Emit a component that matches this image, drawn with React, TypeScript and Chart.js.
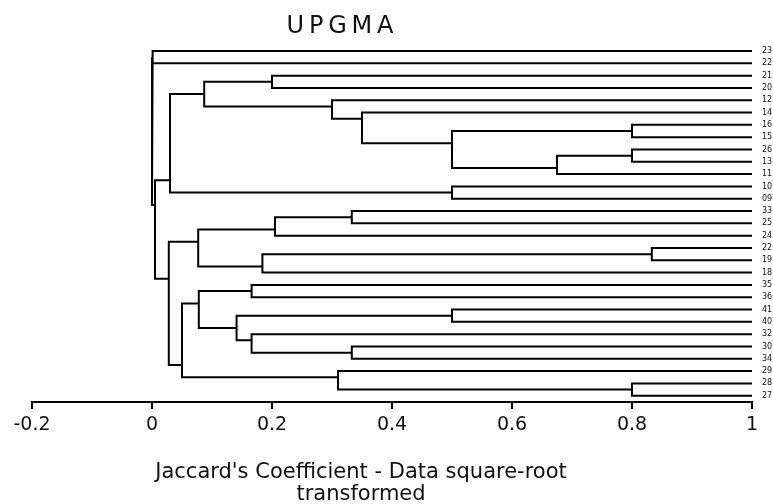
import React, { useEffect, useRef } from 'react';
import { Chart, registerables } from 'chart.js';

Chart.register(...registerables);

const TITLE = 'UPGMA';
const X_AXIS_TITLE = ["Jaccard's Coefficient - Data square-root", 'transformed'];

// Leaves, top to bottom
const LEAF_LABELS = ['23', '22', '21', '20', '12', '14', '16', '15', '26', '13', '11', '10', '09', '33', '25', '24', '22', '19', '18', '35', '36', '41', '40', '32', '30', '34', '29', '28', '27'];

// Merges (hclust style): negative = leaf (-1 is first leaf), positive = earlier merge (1-based)
const MERGE_LEFT = [-1, -3, -7, -9, 4, 3, -6, -5, 2, -12, 9, -14, 12, -17, 14, 13, -20, -22, -25, -24, 18, 17, -28, -27, 22, 16, 11, 1];
const MERGE_RIGHT = [-2, -4, -8, -10, -11, 5, 6, 7, 8, -13, 10, -15, -16, -18, -19, 15, -21, -23, -26, 19, 20, 21, -29, 23, 24, 25, 26, 27];
const MERGE_HEIGHT = [0.001, 0.2, 0.8, 0.8, 0.675, 0.5, 0.35, 0.3, 0.087, 0.5, 0.03, 0.333, 0.205, 0.833, 0.184, 0.077, 0.166, 0.5, 0.333, 0.166, 0.141, 0.078, 0.8, 0.31, 0.05, 0.028, 0.005, 0];

const X_TICKS = [-0.2, 0, 0.2, 0.4, 0.6, 0.8, 1];
const X_TICK_LABELS = ['-0.2', '0', '0.2', '0.4', '0.6', '0.8', '1'];
const X_MIN = -0.2;
const X_MAX = 1;

function buildSegments() {
  const first: number[] = [];
  const last: number[] = [];
  const attach: number[] = [];
  const info = (ref: number) =>
    ref < 0
      ? { first: -ref - 1, last: -ref - 1, y: -ref - 1, x: X_MAX }
      : { first: first[ref - 1], last: last[ref - 1], y: attach[ref - 1], x: MERGE_HEIGHT[ref - 1] };
  const pts: { x: number; y: number | null }[] = [];
  MERGE_LEFT.forEach((l, k) => {
    const a = info(l);
    const b = info(MERGE_RIGHT[k]);
    const h = MERGE_HEIGHT[k];
    first[k] = a.first;
    last[k] = b.last;
    attach[k] = (a.last + b.first) / 2;
    pts.push({ x: a.x, y: a.y }, { x: h, y: a.y }, { x: h, y: b.y }, { x: b.x, y: b.y }, { x: h, y: null });
  });
  return pts;
}

const titlePlugin = {
  id: 'customTitles',
  afterDraw(chart: any) {
    const ctx = chart.ctx as CanvasRenderingContext2D;
    ctx.save();
    ctx.fillStyle = '#111';
    ctx.textAlign = 'center';
    ctx.textBaseline = 'alphabetic';
    ctx.font = '24px "DejaVu Sans"';
    (ctx as any).letterSpacing = '4.8px';
    ctx.fillText(TITLE, 342.4, 32.7);
    (ctx as any).letterSpacing = '0px';
    ctx.font = '21px "DejaVu Sans"';
    ctx.fillText(X_AXIS_TITLE[0], 361, 477.5);
    ctx.fillText(X_AXIS_TITLE[1], 361, 499.5);
    ctx.restore();
  },
};

export default function App() {
  const ref = useRef<HTMLCanvasElement | null>(null);
  useEffect(() => {
    if (!ref.current) return;
    const chart = new Chart(ref.current, {
      type: 'line',
      data: {
        datasets: [
          {
            data: buildSegments() as any,
            borderColor: '#000',
            borderWidth: 2,
            pointRadius: 0,
            pointHoverRadius: 0,
            fill: false,
            tension: 0,
            spanGaps: false,
            borderJoinStyle: 'miter',
            borderCapStyle: 'butt',
          },
        ],
      },
      options: {
        responsive: false,
        animation: false,
        events: [],
        layout: { padding: { left: 32, top: 40, right: 0, bottom: 0 } },
        plugins: { legend: { display: false }, tooltip: { enabled: false }, title: { display: false } },
        scales: {
          x: {
            type: 'linear',
            position: 'bottom',
            min: X_MIN,
            max: X_MAX,
            afterBuildTicks: (s: any) => {
              s.ticks = X_TICKS.map((v) => ({ value: v }));
            },
            afterFit: (s: any) => {
              s.height = 102;
            },
            ticks: {
              autoSkip: false,
              maxRotation: 0,
              padding: 5,
              color: '#111',
              font: { family: 'DejaVu Sans', size: 19 },
              callback: (_v: any, i: number) => X_TICK_LABELS[i],
            },
            grid: { drawOnChartArea: false, drawTicks: true, tickLength: 7, color: '#000', lineWidth: 2 },
            border: { display: true, color: '#000', width: 2 },
          },
          y: {
            type: 'linear',
            position: 'right',
            reverse: true,
            min: -0.894,
            max: 28.51,
            afterBuildTicks: (s: any) => {
              s.ticks = LEAF_LABELS.map((_, i) => ({ value: i }));
            },
            afterFit: (s: any) => {
              s.width = 21;
            },
            ticks: {
              autoSkip: false,
              padding: 10,
              color: '#111',
              font: { family: 'DejaVu Sans', size: 8 },
              callback: (v: any) => LEAF_LABELS[v as number],
            },
            grid: { display: false, drawTicks: false },
            border: { display: false },
          },
        },
      },
      plugins: [titlePlugin],
    });
    return () => chart.destroy();
  }, []);
  return (
    <div style={{ position: 'fixed', left: 0, top: 0, width: 773, height: 504, background: '#fff' }}>
      <canvas ref={ref} width={773} height={504} style={{ display: 'block' }} />
    </div>
  );
}
